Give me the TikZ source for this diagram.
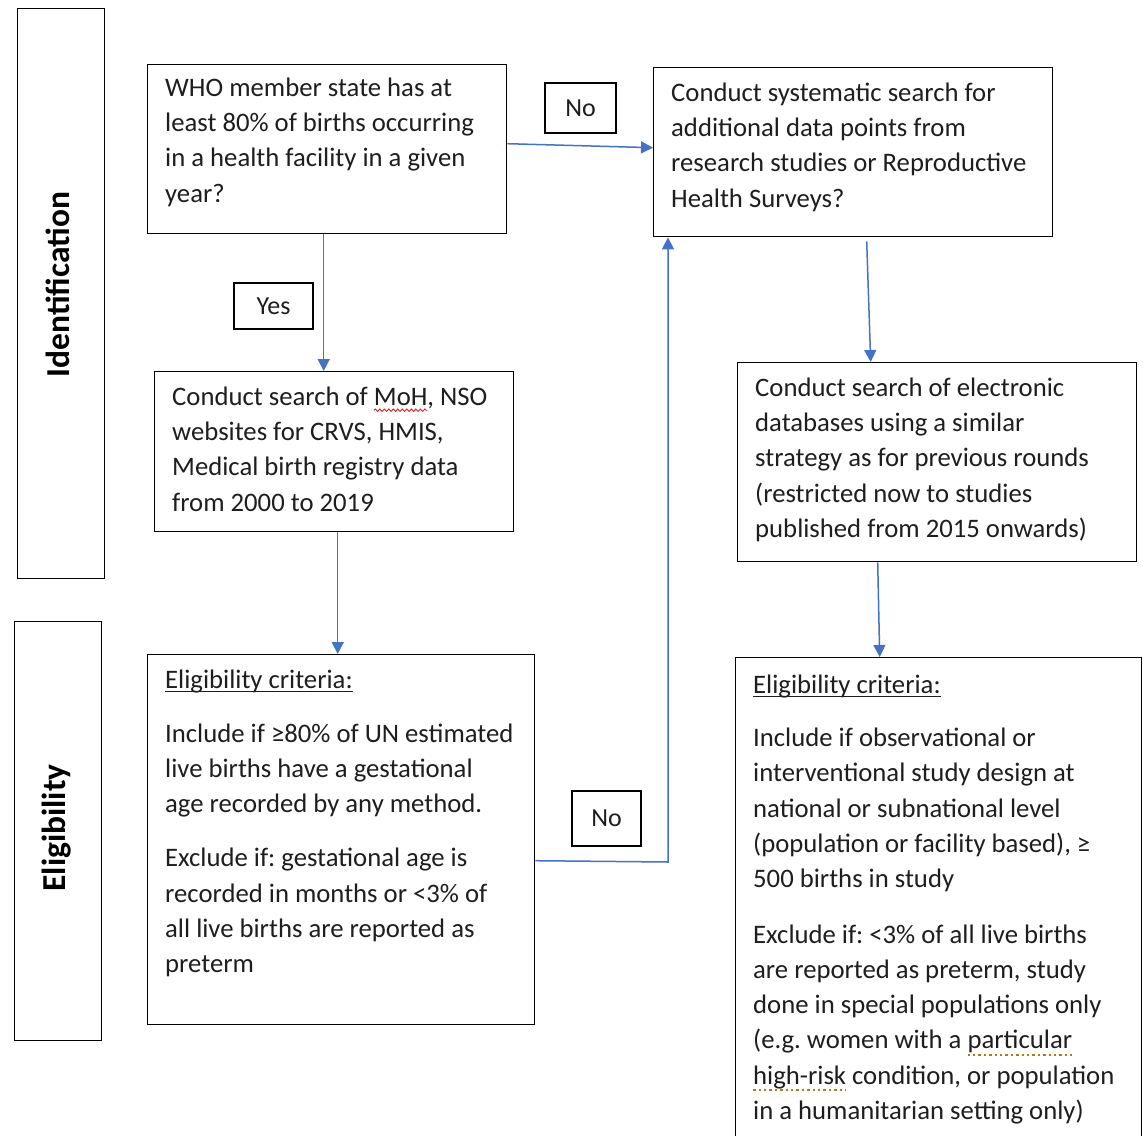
\documentclass[tikz,border=0pt]{standalone}
\usepackage{fontspec}
\setmainfont{Carlito}
\usetikzlibrary{arrows.meta,decorations.pathmorphing}
\definecolor{arrowblue}{HTML}{4472C4}
\definecolor{spellred}{HTML}{E02020}
\definecolor{grammarbrown}{HTML}{B07818}
\definecolor{textgray}{HTML}{1E1E1E}
\frenchspacing
\newlength\ulwd
\newcommand\wavyword[1]{\settowidth\ulwd{#1}\rlap{\tikz[overlay,x=1pt,y=1pt,baseline=0pt]\draw[spellred,line width=0.9pt,decorate,decoration={snake,amplitude=1.2pt,segment length=4.5pt}] (0,-5) -- (\ulwd,-5);}#1}
\newcommand\dotword[1]{\settowidth\ulwd{#1}\rlap{\tikz[overlay,x=1pt,y=1pt,baseline=0pt]\draw[grammarbrown,line width=1.8pt,dash pattern=on 2.4pt off 3pt] (0,-6) -- (\ulwd,-6);}#1}
\newcommand\lineword[1]{\settowidth\ulwd{#1}\rlap{\tikz[overlay,x=1pt,y=1pt,baseline=0pt]\draw[textgray,line width=1.3pt] (0,-3.5) -- (\ulwd,-3.5);}#1}
\begin{document}
\begin{tikzpicture}[x=1pt,y=-1pt,
  box/.style={draw=black, line width=1.4pt, anchor=north west, inner sep=0pt},
  txt/.style={anchor=north west, inner sep=0pt, align=left, text=textgray,
    font=\frenchspacing\fontsize{26.7}{35.3}\selectfont},
  lbl/.style={draw=black, line width=1.4pt, inner sep=0pt, text=textgray,
    font=\fontsize{26}{30}\selectfont},
  arr/.style={draw=arrowblue, line width=1.5pt, -{Triangle[length=12pt,width=12pt]}},
  side/.style={font=\bfseries\fontsize{33.5}{40}\selectfont, rotate=90, inner sep=0pt}]

\useasboundingbox (0,0) rectangle (1143,1135);
\clip (0,0) rectangle (1143,1135);
\fill[white] (0,0) rectangle (1143,1135);

% side panels
\node[box, minimum width=87pt, minimum height=570pt] (ident) at (17,8) {};
\node[box, minimum width=87pt, minimum height=419pt] (elig) at (14,621) {};
\node[side] (identlbl) at (58,284.5) {Identification};
\node[side] (eliglbl) at (57,828) {Eligibility};

% boxes
\node[box, minimum width=359pt, minimum height=169pt] (A) at (147,64) {};
\node[box, minimum width=399pt, minimum height=169pt] (B) at (653,67) {};
\node[box, minimum width=359pt, minimum height=160pt] (C) at (154,371) {};
\node[box, minimum width=399pt, minimum height=199pt] (D) at (737,362) {};
\node[box, minimum width=387pt, minimum height=370pt] (E) at (147,654) {};
\node[box, minimum width=406pt, minimum height=500pt] (F) at (735,657) {};

% texts
\node[txt] (Atxt) at (165,71) {\rule{0pt}{25pt}WHO member state has at\\ least 80\% of births occurring\\ in a health facility in a given\\ year?};
\node[txt] (Btxt) at (671,76) {\rule{0pt}{25pt}Conduct systematic search for\\ additional data points from\\ research studies or Reproductive\\ Health Surveys?};
\node[txt] (Ctxt) at (172,380) {\rule{0pt}{25pt}Conduct search of \wavyword{MoH}, NSO\\ websites for CRVS, HMIS,\\ Medical birth registry data\\ from 2000 to 2019};
\node[txt] (Dtxt) at (755,371) {\rule{0pt}{25pt}Conduct search of electronic\\ databases using a similar\\ strategy as for previous rounds\\ (restricted now to studies\\ published from 2015 onwards)};
\node[txt] (Etxt) at (165,663) {\rule{0pt}{25pt}\lineword{Eligibility criteria:}\\[18.5pt] Include if ≥80\% of UN estimated\\ live births have a gestational\\ age recorded by any method.\\[19pt] Exclude if: gestational age is\\ recorded in months or <3\% of\\ all live births are reported as\\ preterm};
\node[txt] (Ftxt) at (753,668) {\rule{0pt}{25pt}\lineword{Eligibility criteria:}\\[18pt] Include if observational or\\ interventional study design at\\ national or subnational level\\ (population or facility based), ≥\\ 500 births in study\\[20pt] Exclude if: <3\% of all live births\\ are reported as preterm, study\\ done in special populations only\\ (e.g. women with a \dotword{particular}\\ \dotword{high-risk} condition, or population\\ in a humanitarian setting only)};

% yes/no labels
\node[lbl, minimum width=71pt, minimum height=50pt] (noTop) at (580.5,108) {No};
\node[lbl, minimum width=79pt, minimum height=46pt] (yes) at (273.5,306) {Yes};
\node[lbl, minimum width=69pt, minimum height=55pt] (noBot) at (606.5,818.5) {No};

% connectors
\coordinate (turn) at (668,862);
\draw[arr] ([yshift=5.5pt]A.east) -- ([yshift=4.5pt]B.west);
\draw[arr] ([xshift=-3.5pt]A.south) -- ([xshift=-3.5pt]A.south |- C.north);
\draw[arr] ([xshift=3.5pt]C.south) -- ([xshift=3.5pt]C.south |- E.north);
\draw[arr] ([yshift=-21pt]E.east) -- (turn) -- (turn |- B.south);
\draw[arr] ([xshift=13.5pt,yshift=-4pt]B.south) -- ([xshift=-66.5pt]D.north);
\draw[arr] ([xshift=-59.5pt]D.south) -- ([xshift=-59pt]F.north);
\end{tikzpicture}
\end{document}
